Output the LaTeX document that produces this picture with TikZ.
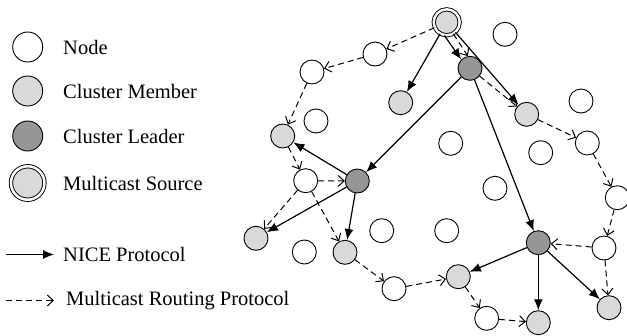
\documentclass[tikz,border=0pt]{standalone}
\usepackage{fontspec}
\setmainfont{Liberation Serif}
\usetikzlibrary{arrows.meta}
\definecolor{memberfill}{RGB}{217,217,217}
\definecolor{leaderfill}{RGB}{150,150,150}
\begin{document}
\begin{tikzpicture}[x=1pt,y=-1pt,
  base/.style={circle,draw,line width=0.9pt,inner sep=0pt,minimum size=24pt},
  plain/.style={base,fill=white},
  member/.style={base,fill=memberfill},
  leader/.style={base,fill=leaderfill},
  source/.style={circle,draw,line width=0.9pt,double,double distance=2.4pt,fill=memberfill,inner sep=0pt,minimum size=26pt},
  big/.style={minimum size=30pt},
  nice/.style={-{Latex[length=11pt,width=9pt]},line width=1.2pt},
  mrp/.style={-{Straight Barb[length=6pt,width=11pt]},line width=1pt,dash pattern=on 6pt off 4pt},
  lab/.style={anchor=west,font=\fontsize{20.5}{24}\selectfont,inner sep=0pt}
]
\useasboundingbox (0,0) rectangle (627,335);

% legend
\node[plain,big] (lnode) at (27.7,47) {};
\node[lab] (tnode) at (63,47) {Node};
\node[member,big] (lmember) at (27.7,91) {};
\node[lab] (tmember) at (63,91) {Cluster Member};
\node[leader,big] (lleader) at (27.7,136) {};
\node[lab] (tleader) at (63,136) {Cluster Leader};
\node[source,minimum size=33.5pt,double distance=2.5pt] (lsource) at (27.7,183) {};
\node[lab] (tsource) at (63,183) {Multicast Source};
\coordinate (nA) at (6,254.5);
\coordinate (nB) at (54,254.5);
\draw[nice] (nA) -- (nB);
\node[lab] (tnice) at (63,254.5) {NICE Protocol};
\coordinate (mA) at (6,300.5);
\coordinate (mB) at (54,300.5);
\draw[mrp] (mA) -- (mB);
\node[lab] (tmrp) at (66,300.5) {Multicast Routing Protocol};

% network nodes
\node[source] (S) at (446.7,22.3) {};
\node[plain] (w1) at (375,54) {};
\node[plain] (w2) at (312,72) {};
\node[member] (m1) at (400.7,102.7) {};
\node[plain] (w3) at (316,121) {};
\node[member] (m2) at (282.7,136) {};
\node[plain] (wT) at (505,34.3) {};
\node[leader] (L1) at (470,68.3) {};
\node[member] (m3) at (526.7,114.3) {};
\node[plain] (w4) at (581,101) {};
\node[plain] (w5) at (587.3,143) {};
\node[plain] (w6) at (450.7,143.3) {};
\node[plain] (w7) at (540.7,152.7) {};
\node[plain] (w8) at (617.3,197.7) {};
\node[plain] (w9) at (604,248) {};
\node[leader] (L2) at (357.3,181) {};
\node[plain] (w10) at (305.7,180.7) {};
\node[member] (m4) at (256,238.3) {};
\node[plain] (w11) at (304.3,252) {};
\node[member] (m5) at (345,252.3) {};
\node[plain] (w12) at (381.7,230.7) {};
\node[plain] (w13) at (394,288.7) {};
\node[plain] (w14) at (446.7,230.7) {};
\node[plain] (w15) at (495,188.3) {};
\node[leader] (L3) at (538.3,242.7) {};
\node[member] (m6) at (458.3,276.7) {};
\node[plain] (w16) at (486.7,318.3) {};
\node[member] (m7) at (538.3,322.7) {};
\node[member] (m8) at (609,307.7) {};

% NICE protocol
\draw[nice] (S) -- (m1);
\draw[nice] (S.-100) -- (L1.135);
\draw[nice] (S) -- (m3);
\draw[nice] (L1) -- (L2);
\draw[nice] (L1) -- (L3);
\draw[nice] (L2) -- (m2);
\draw[nice] (L2) -- (m4);
\draw[nice] (L2) -- (m5);
\draw[nice] (L3) -- (m6);
\draw[nice] (L3) -- (m7);
\draw[nice] (L3) -- (m8);

% multicast routing protocol
\draw[mrp] (S) -- (w1);
\draw[mrp] (w1) -- (w2);
\draw[mrp] (w2) -- (m2);
\draw[mrp] (m2) -- (w10);
\draw[mrp] (w10) -- (L2);
\draw[mrp] (w10) -- (m4);
\draw[mrp] (w10) -- (m5);
\draw[mrp] (m5) -- (w13);
\draw[mrp] (w13) -- (m6);
\draw[mrp] (m6) -- (w16);
\draw[mrp] (w16) -- (m7);
\draw[mrp] (S.-60) -- (L1.100);
\draw[mrp] (L1) -- (m3);
\draw[mrp] (m3) -- (w5);
\draw[mrp] (w5) -- (w8);
\draw[mrp] (w8) -- (w9);
\draw[mrp] (w9) -- (L3);
\draw[mrp] (w9) -- (m8);
\end{tikzpicture}
\end{document}
